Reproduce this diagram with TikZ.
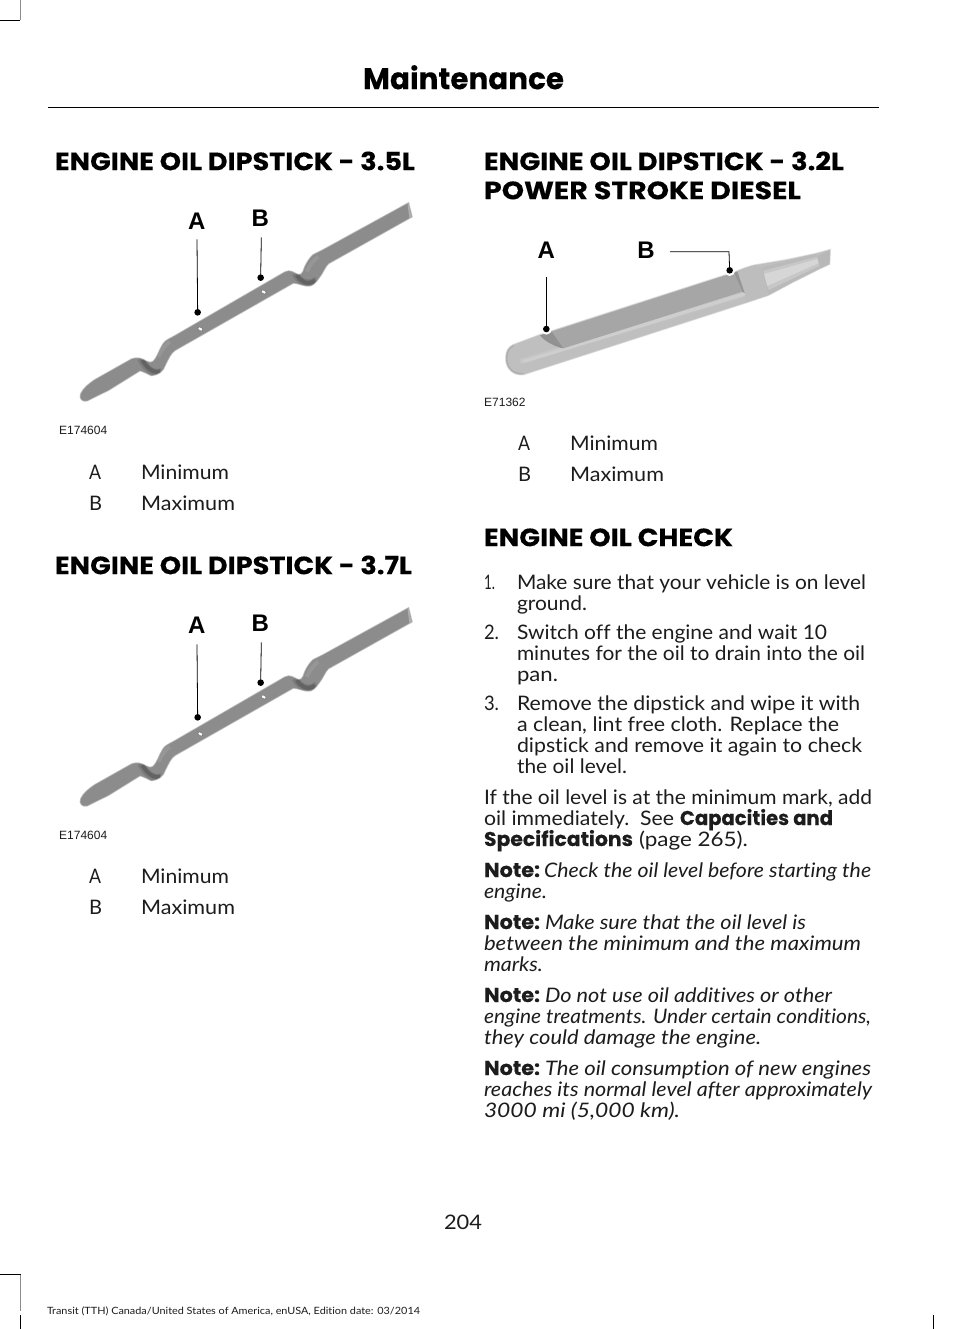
\documentclass[tikz,border=0pt]{standalone}
\usepackage{fontspec}
\usepackage{graphicx}
\setmainfont{Lato}[Ligatures={NoCommon,TeX}]
\newfontfamily\headfont{Poppins}[BoldFeatures={FakeBold=0.2}]
\newfontfamily\arialfont{Liberation Sans}
\usetikzlibrary{calc}
\definecolor{ink}{HTML}{1C1C1C}
\tikzset{
  x=1pt,y=-1pt,
  txt/.style={anchor=base west,inner sep=0pt,outer sep=0pt,text=ink},
  callout/.style={anchor=base,inner sep=0pt,font=\arialfont\bfseries\fontsize{24}{26}\selectfont,text=black},
  code/.style={anchor=base west,inner sep=0pt,font=\arialfont\fontsize{12}{14}\selectfont,text=ink},
  leader/.style={draw=black,line width=0.8pt},
  dotn/.style={circle,fill=black,inner sep=0pt,minimum size=6.6pt},
  crop/.style={line width=0.8pt,draw=black},
  cropg/.style={line width=0.8pt,draw=black!45},
}
\newcommand{\body}{\fontsize{20}{24}\selectfont}
\newcommand{\hb}{\headfont\bfseries}
\newcommand{\tl}[5]{\node[txt] (#1) at (#2,#3) {\resizebox{#4pt}{\height}{\body #5}};}
\newcommand{\hd}[5]{\node[txt,text=black] (#1) at (#2,#3) {\resizebox{#4pt}{\height}{\headfont\bfseries\fontsize{25}{28}\selectfont #5}};}
\newcommand{\flatstick}[3]{%
\begin{scope}[shift={(50,190+#2)},scale=1/3]
  \def\stickpath{(93,612) .. controls (100,595) and (120,580) .. (135,570)
    -- (245,508) .. controls (260,502) and (275,505) .. (290,515)
    .. controls (298,519) and (305,520) .. (310,515)
    .. controls (322,505) and (328,480) .. (340,462)
    .. controls (348,450) and (360,447) .. (375,438)
    -- (705,247) .. controls (720,238) and (732,250) .. (745,255)
    .. controls (752,256) and (757,252) .. (760,245)
    .. controls (765,230) and (772,212) .. (790,195)
    -- (820,180) -- (1075,40) -- (1085,80) -- (835,220)
    .. controls (825,228) and (818,250) .. (805,265)
    .. controls (795,280) and (785,288) .. (775,287)
    .. controls (762,288) and (750,280) .. (730,278)
    -- (375,480) .. controls (362,488) and (355,505) .. (345,525)
    .. controls (338,545) and (325,553) .. (305,556)
    .. controls (295,553) and (285,545) .. (270,541)
    -- (175,600) -- (110,632)
    .. controls (98,635) and (88,625) .. (93,612) -- cycle}
  \draw[line width=2pt,draw=black!18] \stickpath;
  \draw[line width=1.1pt,draw=black!32] \stickpath;
  \fill[fill=black!45] \stickpath;
  \begin{scope}
    \clip \stickpath;
    \draw[line width=7pt,draw=black!70,opacity=.25] (272,505) .. controls (285,530) and (305,555) .. (335,545);
    \draw[line width=4pt,draw=black!75,opacity=.4] (277,510) .. controls (290,532) and (307,550) .. (330,545);
    \draw[line width=7pt,draw=black!70,opacity=.25] (735,250) .. controls (745,270) and (770,292) .. (800,270);
    \draw[line width=4pt,draw=black!75,opacity=.4] (740,255) .. controls (750,272) and (770,288) .. (795,272);
    \draw[line width=4pt,draw=black!35,opacity=.4] (325,500) .. controls (335,480) and (345,465) .. (360,455);
    \draw[line width=4pt,draw=black!35,opacity=.4] (770,245) .. controls (780,225) and (790,210) .. (805,200);
    \draw[line width=2.4pt,draw=white,opacity=.55] (1084,35) -- (1090,90);
    \draw[line width=2.4pt,draw=white,opacity=.3] (1076,38) -- (1082,88);
  \end{scope}
  \fill[white,draw=black!60,line width=.4pt,rotate around={-30:(451,417)}] (451,417) ellipse [x radius=8,y radius=5];
  \fill[white,draw=black!60,line width=.4pt,rotate around={-30:(641,306)}] (641,306) ellipse [x radius=8,y radius=5];
  \node[dotn] (#1A) at (443,367) {};
  \node[dotn] (#1B) at (632,263) {};
  \coordinate (#1At) at (441,148);
  \coordinate (#1Bt) at (634,142);
  \node[callout] (#1La) at (440,118-#3) {A};
  \node[callout] (#1Lb) at (631,110) {B};
  \draw[leader] (#1At) -- (#1A.center);
  \draw[leader] (#1Bt) -- (#1B.center);
\end{scope}}
\begin{document}
\begin{tikzpicture}
\useasboundingbox (0,0) rectangle (954,1329);
\fill[white] (0,0) rectangle (954,1329);
% crop marks
\draw[crop] (0,20) -- (20,20);
\draw[cropg] (20.5,0) -- (20.5,20);
\draw[crop] (0,1274.5) -- (20.5,1274.5);
\draw[cropg] (20.5,1274.5) -- (20.5,1311);
\draw[crop] (20.5,1315) -- (20.5,1329);
\draw[crop] (933,1315) -- (933,1329);
% head
\node[anchor=base,inner sep=0pt] (title) at (463.5,89.2) {\resizebox{201pt}{\height}{\headfont\bfseries\fontsize{30}{32}\selectfont Maintenance}};
\draw[line width=1pt] (48,107.5) -- (879,107.5);
% left column
\hd{h1}{55}{170.2}{360}{ENGINE OIL DIPSTICK - 3.5L}
\flatstick{s}{0}{0}
\node[code] (c1) at (59,434) {E174604};
\tl{a1}{89}{479}{12}{A}\tl{a1t}{141}{479}{88}{Minimum}
\tl{b1}{89}{510}{13}{B}\tl{b1t}{141}{510}{94}{Maximum}
\hd{h2}{55}{574.2}{357}{ENGINE OIL DIPSTICK - 3.7L}
\flatstick{t}{405}{3}
\node[code] (c2) at (59,839) {E174604};
\tl{a2}{89}{883}{12}{A}\tl{a2t}{141}{883}{88}{Minimum}
\tl{b2}{89}{914}{13}{B}\tl{b2t}{141}{914}{94}{Maximum}
% right column
\hd{h3}{484}{170.2}{360}{ENGINE OIL DIPSTICK - 3.2L}
\hd{h3b}{484}{199.2}{317}{POWER STROKE DIESEL}
\begin{scope}[shift={(480,230)},scale=1/3]
  \def\rodpath{(78,385) .. controls (78,365) and (85,352) .. (100,345)
    -- (180,315) -- (770,125) .. controls (785,118) and (810,108) .. (830,105)
    -- (920,90) -- (1005,72) -- (1050,60) -- (1048,102) -- (1020,115) -- (940,155) -- (865,195)
    -- (790,220) -- (130,433) .. controls (105,436) and (78,420) .. (78,385) -- cycle}
  \draw[line width=2pt,draw=black!10] \rodpath;
  \draw[line width=1pt,draw=black!18] \rodpath;
  \fill[black!25] \rodpath;
  \begin{scope}
    \clip \rodpath;
    \draw[line width=5pt,draw=black!20,opacity=.6] (120,395) -- (800,190);
    \draw[line width=3pt,draw=black!17,opacity=.6] (130,395) -- (800,190);
    \draw[line width=3pt,draw=black!40,opacity=.4] (130,433) .. controls (105,436) and (78,420) .. (78,385) .. controls (78,365) and (85,352) .. (100,345);
    \fill[black!35] (215,305) -- (762,128) -- (787,185) -- (250,355) -- cycle;
    \fill[black!43] (180,316) -- (215,305) -- (250,355) .. controls (225,350) and (195,335) .. (180,316) -- cycle;
    \fill[black!41] (762,128) -- (772,122) -- (795,190) -- (787,185) -- cycle;
    \fill[black!26] (772,122) -- (830,105) -- (845,115) -- (865,195) -- (795,218) -- (795,190) -- cycle;
    \fill[black!27] (845,112) -- (1005,72) -- (1015,80) -- (1022,118) -- (940,155) -- (865,195) -- cycle;
    \fill[black!22] (850,122) -- (1012,80) -- (1018,108) -- (866,180) -- cycle;
    \fill[black!16] (852,132) -- (1012,87) -- (1015,100) -- (862,168) -- cycle;
    \fill[black!28] (1015,78) -- (1052,58) -- (1052,104) -- (1022,116) -- cycle;
  \end{scope}
  \fill[white] (199,297) circle [radius=17];
  \fill[white] (749,121) circle [radius=17];
  \node[dotn] (rA) at (199,297) {};
  \node[dotn] (rB) at (749,121) {};
  \coordinate (rAt) at (199,141);
  \coordinate (rBt) at (570,65);
  \coordinate (rBc) at (747,65);
  \node[callout] (rLa) at (199,87) {A};
  \node[callout] (rLb) at (498,87) {B};
  \draw[leader] (rAt) -- (rA.center);
  \draw[leader] (rBt) -- (rBc) -- (rB.center);
\end{scope}
\node[code] (c3) at (484,406) {E71362};
\tl{a3}{518}{450}{12}{A}\tl{a3t}{570}{450}{88}{Minimum}
\tl{b3}{518}{481}{13}{B}\tl{b3t}{570}{481}{94}{Maximum}
\hd{h4}{484}{546.2}{249}{ENGINE OIL CHECK}
\tl{n1}{484}{589}{11}{1.}
\tl{l1}{517}{589}{349}{Make sure that your vehicle is on level}
\tl{l2}{517}{610}{70}{ground.}
\tl{n2}{484}{639}{15}{2.}
\tl{l3}{517}{639}{310}{Switch off the engine and wait 10}
\tl{l4}{517}{660}{348}{minutes for the oil to drain into the oil}
\tl{l5}{517}{681}{41}{pan.}
\tl{n3}{484}{710}{15}{3.}
\tl{l6}{517}{710}{343}{Remove the dipstick and wipe it with}
\tl{l7}{517}{731}{322}{a clean, lint free cloth. Replace the}
\tl{l8}{517}{752}{345}{dipstick and remove it again to check}
\tl{l9}{517}{773}{110}{the oil level.}
\tl{p1}{484}{804}{388}{If the oil level is at the minimum mark, add}
\tl{p2}{484}{825}{190}{oil immediately.\ \ See}
\tl{p2b}{680}{825}{153}{\hb Capacities and}
\tl{p3}{484}{846}{149}{\hb Specifications}
\tl{p3b}{639}{846}{109}{(page 265).}
\tl{q1n}{484}{877}{56}{\hb Note:}
\tl{q1}{544}{877}{327}{\itshape Check the oil level before starting the}
\tl{q2}{484}{898}{63}{\itshape engine.}
\tl{q3n}{484}{929}{56}{\hb Note:}
\tl{q3}{545}{929}{261}{\itshape Make sure that the oil level is}
\tl{q4}{484}{950}{377}{\itshape between the minimum and the maximum}
\tl{q5}{484}{971}{59}{\itshape marks.}
\tl{q6n}{484}{1002}{56}{\hb Note:}
\tl{q6}{545}{1002}{287}{\itshape Do not use oil additives or other}
\tl{q7}{484}{1023}{387}{\itshape engine treatments. Under certain conditions,}
\tl{q8}{484}{1044}{277}{\itshape they could damage the engine.}
\tl{q9n}{484}{1075}{56}{\hb Note:}
\tl{q9}{545}{1075}{326}{\itshape The oil consumption of new engines}
\tl{q10}{484}{1096}{388}{\itshape reaches its normal level after approximately}
\tl{q11}{484}{1117}{196}{\itshape 3000 mi (5,000 km).}
\tl{pg}{444}{1229}{38}{204}
\node[txt] (foot) at (47,1314) {\resizebox{373pt}{\height}{\fontsize{10}{12}\selectfont Transit (TTH) Canada/United States of America, enUSA, Edition date: 03/2014}};
\end{tikzpicture}
\end{document}
